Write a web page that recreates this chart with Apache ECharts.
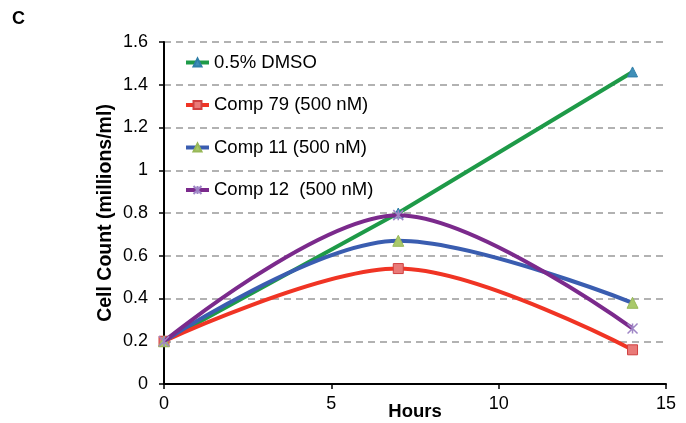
<!DOCTYPE html>
<html>
<head>
<meta charset="utf-8">
<script src="https://cdn.jsdelivr.net/npm/echarts@6/dist/echarts.min.js"></script>
<style>
  html, body { margin: 0; padding: 0; background: #fff; }
  #chart { width: 686px; height: 423px; }
</style>
</head>
<body>
<div id="chart"></div>
<script>
// --- data ---
const hours = [0, 7, 14]
const dmso = [0.2, 0.8, 1.46]
const comp79 = [0.2, 0.54, 0.16]
const comp11 = [0.2, 0.67, 0.38]
const comp12 = [0.2, 0.79, 0.26]
const seriesNames = ["0.5% DMSO", "Comp 79 (500 nM)", "Comp 11 (500 nM)", "Comp 12  (500 nM)"]

const font = "Liberation Sans, Arial, sans-serif"

function pairs(values) {
    return hours.map((h, i) => [h, values[i]])
}

// excel style star marker: x with a vertical stroke
const starPath = "path://M0,0L10,10M10,0L0,10M5,0L5,10"
// excel's smoothed lines are close to a 1/6 catmull-rom, i.e. smooth ~ 1/3 here
const excelSmooth = 0.33

const chart = echarts.init(document.getElementById("chart"))

chart.setOption({
    animation: false,
    textStyle: { fontFamily: font },
    graphic: [{
        type: "text",
        left: 12,
        top: 10,
        style: { text: "C", font: "bold 18px " + font, fill: "#000" }
    }],
    grid: { left: 164, right: 20, top: 42, bottom: 39, containLabel: false, outerBoundsMode: "none" },
    legend: {
        orient: "vertical",
        left: 184,
        top: 53,
        padding: 0,
        itemGap: 23.5,
        itemWidth: 23,
        itemHeight: 10,
        lineStyle: { width: 4 },
        textStyle: { fontSize: 18.5, lineHeight: 19, color: "#000", fontFamily: font },
        data: seriesNames
    },
    xAxis: {
        type: "value",
        min: 0,
        max: 15,
        interval: 5,
        name: "Hours",
        nameLocation: "middle",
        nameGap: 18,
        nameMoveOverlap: false,
        nameTextStyle: { fontSize: 18.5, fontWeight: "bold", color: "#000" },
        axisLine: { show: true, lineStyle: { color: "#000", width: 2 } },
        axisTick: { show: true, length: 5, lineStyle: { color: "#000", width: 1.5 } },
        axisLabel: { fontSize: 18, color: "#000", margin: 11 },
        splitLine: { show: false }
    },
    yAxis: {
        type: "value",
        min: 0,
        max: 1.6,
        interval: 0.2,
        name: "Cell Count (millions/ml)",
        nameLocation: "middle",
        nameGap: 48,
        nameMoveOverlap: false,
        nameTextStyle: { fontSize: 19.5, fontWeight: "bold", color: "#000" },
        axisLine: { show: true, lineStyle: { color: "#000", width: 2 } },
        axisTick: { show: true, length: 5, lineStyle: { color: "#000", width: 1.5 } },
        axisLabel: {
            fontSize: 18,
            color: "#000",
            margin: 16,
            formatter: v => String(Math.round(v * 10) / 10)
        },
        splitLine: { show: true, lineStyle: { color: "#999", type: [7, 5], width: 1.5 } }
    },
    series: [
        {
            name: seriesNames[0],
            type: "line",
            data: pairs(dmso),
            symbol: "triangle",
            symbolSize: 10,
            lineStyle: { color: "#1e9a48", width: 4 },
            itemStyle: { color: "#3f8fb8", borderColor: "#2f7ea8", borderWidth: 1 },
            z: 2
        },
        {
            name: seriesNames[1],
            type: "line",
            data: pairs(comp79),
            smooth: excelSmooth,
            symbol: "rect",
            symbolSize: 10,
            lineStyle: { color: "#f03424", width: 4 },
            itemStyle: { color: "#e97a78", borderColor: "#d04040", borderWidth: 1 },
            z: 3
        },
        {
            name: seriesNames[2],
            type: "line",
            data: pairs(comp11),
            smooth: excelSmooth,
            symbol: "triangle",
            symbolSize: 11,
            lineStyle: { color: "#3a5db0", width: 4 },
            itemStyle: { color: "#a9c96a", borderColor: "#98b858", borderWidth: 1 },
            z: 4
        },
        {
            name: seriesNames[3],
            type: "line",
            data: pairs(comp12),
            smooth: excelSmooth,
            symbol: starPath,
            symbolSize: 10,
            lineStyle: { color: "#7b2a8c", width: 4 },
            itemStyle: { color: "#9f86c6", borderColor: "#9f86c6", borderWidth: 1.5 },
            z: 5
        }
    ]
})
</script>
</body>
</html>
